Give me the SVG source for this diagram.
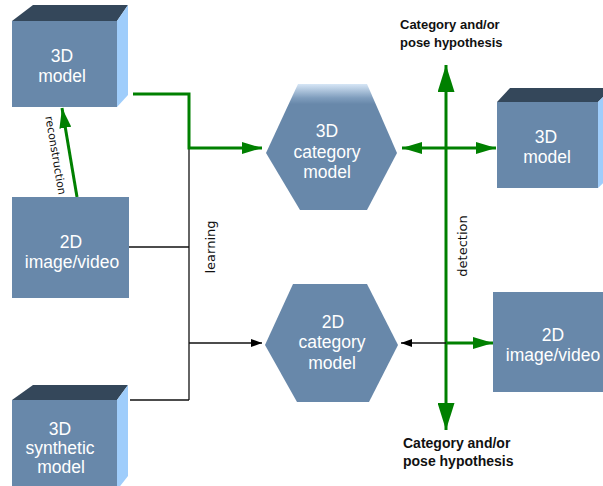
<svg xmlns="http://www.w3.org/2000/svg" width="603" height="486" viewBox="0 0 603 486">
  <defs>
    <linearGradient id="hexTop" x1="0" y1="0" x2="0" y2="1">
      <stop offset="0" stop-color="#d6e6f6"/>
      <stop offset="0.11" stop-color="#7f9dbd"/>
      <stop offset="0.16" stop-color="#6888aa"/>
      <stop offset="1" stop-color="#6888aa"/>
    </linearGradient>
    <marker id="arrGreen" viewBox="0 0 20 12" refX="20" refY="6" markerWidth="20" markerHeight="12" markerUnits="userSpaceOnUse" orient="auto">
      <path d="M0,0 L20,6 L0,12 Z" fill="#008000"/>
    </marker>
    <marker id="arrGreenBig" viewBox="0 0 27 17" refX="27" refY="8.5" markerWidth="27" markerHeight="17" markerUnits="userSpaceOnUse" orient="auto">
      <path d="M0,0 L27,8.5 L0,17 Z" fill="#008000"/>
    </marker>
    <marker id="arrBlack" viewBox="0 0 11 8" refX="11" refY="4" markerWidth="11" markerHeight="8" markerUnits="userSpaceOnUse" orient="auto">
      <path d="M0,0 L11,4 L0,8 Z" fill="#000"/>
    </marker>
  </defs>
  <style>
    .front { fill: #6888aa; }
    .top { fill: #34475a; }
    .side { fill: #9fcdfb; }
    .lbl { font-family: "Liberation Sans", Arial, sans-serif; font-size: 17.5px; fill: #ffffff; text-anchor: middle; }
    .hyp { font-family: "Liberation Sans", Arial, sans-serif; font-weight: bold; fill: #111; }
    .edge { font-family: "DejaVu Sans", sans-serif; font-size: 13px; fill: #111; text-anchor: middle; }
    .g { stroke: #008000; stroke-width: 3; fill: none; }
    .k { stroke: #111; stroke-width: 1.3; fill: none; }
  </style>

  <!-- connectors -->
  <g id="connectors">
    <!-- learning bus -->
    <polyline class="k" points="189,148 189,400"/>
    <line class="k" x1="129" y1="247" x2="189" y2="247"/>
    <line class="k" x1="130" y1="400" x2="189" y2="400"/>
    <line class="k" x1="189" y1="343" x2="262" y2="343" marker-end="url(#arrBlack)"/>
    <polyline class="g" points="133,94 189,94 189,148 262,148" marker-end="url(#arrGreen)"/>

    <!-- reconstruction -->
    <line class="g" x1="77" y1="197" x2="62" y2="108" marker-end="url(#arrGreen)"/>
    <text class="edge" style="font-size:11px" transform="translate(52,156) rotate(80.4)">reconstruction</text>

    <text class="edge" transform="translate(215,247) rotate(-90)">learning</text>

    <!-- detection axes -->
    <line class="g" x1="446" y1="247" x2="446" y2="65" marker-end="url(#arrGreenBig)"/>
    <line class="g" x1="446" y1="247" x2="446" y2="430" marker-end="url(#arrGreenBig)"/>
    <line class="g" x1="446" y1="148" x2="402" y2="148" marker-end="url(#arrGreen)"/>
    <line class="g" x1="446" y1="148" x2="496" y2="148" marker-end="url(#arrGreen)"/>
    <line class="k" x1="446" y1="343" x2="401" y2="343" marker-end="url(#arrBlack)"/>
    <line class="g" x1="446" y1="343" x2="493" y2="343" marker-end="url(#arrGreen)"/>
    <text class="edge" transform="translate(467,246) rotate(-90)">detection</text>

    <text class="hyp" font-size="13" x="400" y="29">Category and/or</text>
    <text class="hyp" font-size="13" x="400" y="47">pose hypothesis</text>
    <text class="hyp" font-size="14" x="403" y="448">Category and/or</text>
    <text class="hyp" font-size="14" x="403" y="466">pose hypothesis</text>
  </g>

  <!-- 3D model (top left) -->
  <g id="model3d-left">
    <polygon class="top" points="12,21 33,5 128,5 117,21"/>
    <polygon class="side" points="117,21 128,5 128,95 117,107"/>
    <rect class="front" x="12" y="21" width="105" height="86"/>
    <text class="lbl" x="62" y="62">3D</text>
    <text class="lbl" x="62" y="82">model</text>
  </g>

  <!-- 2D image/video (left) -->
  <g id="image2d-left">
    <rect class="front" x="12" y="197" width="117" height="101"/>
    <text class="lbl" x="71" y="248">2D</text>
    <text class="lbl" x="72" y="268">image/video</text>
  </g>

  <!-- 3D synthetic model -->
  <g id="synthetic3d">
    <polygon class="top" points="12,400 33,385 128,385 117,400"/>
    <polygon class="side" points="117,400 128,385 128,476 117,490"/>
    <rect class="front" x="12" y="400" width="105" height="90"/>
    <text class="lbl" x="60" y="435">3D</text>
    <text class="lbl" x="60" y="454">synthetic</text>
    <text class="lbl" x="61" y="473">model</text>
  </g>

  <!-- 3D category model -->
  <g id="category3d">
    <polygon points="298,84 367,84 397,153 367,210 300,210 266,153" fill="url(#hexTop)"/>
    <text class="lbl" x="327" y="137">3D</text>
    <text class="lbl" x="327" y="158">category</text>
    <text class="lbl" x="327" y="178">model</text>
  </g>

  <!-- 2D category model -->
  <g id="category2d">
    <polygon class="front" points="293,284 367,284 398,345 369,402 297,402 265,345"/>
    <text class="lbl" x="333" y="328">2D</text>
    <text class="lbl" x="332" y="348">category</text>
    <text class="lbl" x="332" y="369">model</text>
  </g>

  <!-- 3D model (right) -->
  <g id="model3d-right">
    <polygon class="top" points="497,102 510,88 612,88 598,102"/>
    <polygon class="side" points="598,102 612,88 612,175 598,188"/>
    <rect class="front" x="497" y="102" width="101" height="86"/>
    <text class="lbl" x="546" y="143">3D</text>
    <text class="lbl" x="547" y="163">model</text>
  </g>

  <!-- 2D image/video (right) -->
  <g id="image2d-right">
    <rect class="front" x="493" y="292" width="120" height="100"/>
    <text class="lbl" x="553" y="341">2D</text>
    <text class="lbl" x="553" y="361">image/video</text>
  </g>
</svg>
